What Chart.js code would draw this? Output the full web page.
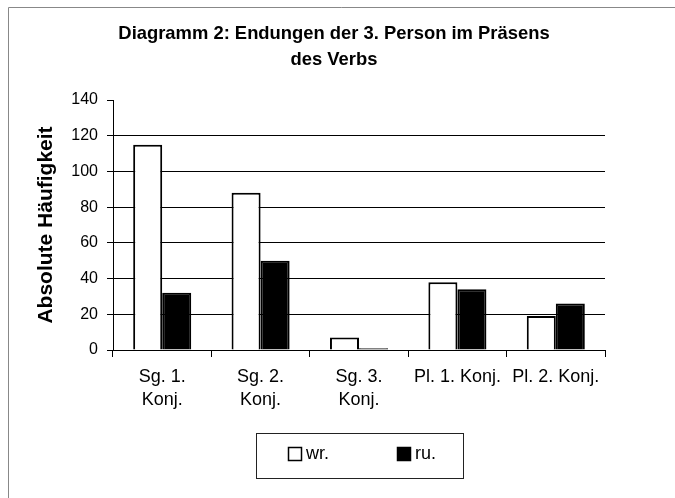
<!DOCTYPE html>
<html><head><meta charset="utf-8">
<script src="https://cdn.jsdelivr.net/npm/chart.js@4"></script>
<style>html,body{margin:0;padding:0;background:#fff}#wrap{width:675px;height:498px;position:relative}</style>
</head><body><div id="wrap"><canvas id="c" width="675" height="498"></canvas></div>
<script>
const categories = [["Sg. 1.","Konj."],["Sg. 2.","Konj."],["Sg. 3.","Konj."],"Pl. 1. Konj.","Pl. 2. Konj."];
const seriesNames = ["wr.","ru."];
const wrValues = [115, 88, 7, 38, 19];
const ruValues = [32, 50, 1, 34, 26];
const yTicks = [0,20,40,60,80,100,120,140];
const titleLines = ["Diagramm 2: Endungen der 3. Person im Präsens","des Verbs"];
const yTitle = "Absolute Häufigkeit";

const FONT = "'Liberation Sans', Arial, sans-serif";

const framePlugin = {
  id: 'frame',
  beforeDraw(chart) {
    const ctx = chart.ctx;
    ctx.save();
    ctx.fillStyle = '#fff';
    ctx.fillRect(0,0,chart.width,chart.height);
    ctx.strokeStyle = '#888';
    ctx.lineWidth = 1;
    ctx.beginPath();
    ctx.moveTo(8.5, chart.height);
    ctx.lineTo(8.5, 7.5);
    ctx.lineTo(chart.width, 7.5);
    ctx.stroke();
    ctx.restore();
  }
};

const titlePlugin = {
  id: 'mainTitle',
  afterDraw(chart) {
    const ctx = chart.ctx;
    ctx.save();
    ctx.font = "bold 18.4px " + FONT;
    ctx.fillStyle = '#000';
    ctx.textAlign = 'center';
    ctx.textBaseline = 'middle';
    titleLines.forEach((t, i) => ctx.fillText(t, 334, 34 + i * 26));
    ctx.restore();
  }
};

const legendPlugin = {
  id: 'boxLegend',
  afterDraw(chart) {
    const ctx = chart.ctx;
    const ca = chart.chartArea;
    const cx = (ca.left + ca.right) / 2;
    const w = 207, h = 45, top = 433;
    const left = Math.round(cx - w / 2);
    ctx.save();
    ctx.strokeStyle = '#222';
    ctx.lineWidth = 1;
    ctx.strokeRect(left + 0.5, top + 0.5, w, h);
    ctx.font = "18px " + FONT;
    ctx.textBaseline = 'middle';
    ctx.textAlign = 'left';
    const itemX = [left + 32, left + 141];
    chart.data.datasets.forEach((ds, i) => {
      const x = itemX[i], y = top + 14;
      ctx.fillStyle = ds.backgroundColor;
      ctx.fillRect(x, y, 14, 14);
      ctx.strokeStyle = '#000';
      ctx.lineWidth = 1.5;
      ctx.strokeRect(x + 0.5, y + 0.5, 13, 13);
      ctx.fillStyle = '#000';
      ctx.fillText(ds.label, x + 18, y + 7.5);
    });
    ctx.restore();
  }
};

new Chart(document.getElementById('c'), {
  type: 'bar',
  data: {
    labels: categories,
    datasets: [
      { label: seriesNames[0], data: wrValues, backgroundColor: '#ffffff', borderColor: '#000', borderWidth: 2 },
      { label: seriesNames[1], data: ruValues, backgroundColor: '#000000', borderColor: '#000', borderWidth: 2 }
    ]
  },
  options: {
    responsive: false,
    devicePixelRatio: 1,
    animation: false,
    layout: { padding: { left: 0, right: 70, top: 100, bottom: 0 } },
    plugins: { legend: { display: false }, title: { display: false }, tooltip: { enabled: false } },
    datasets: { bar: { categoryPercentage: 0.59, barPercentage: 1.0 } },
    scales: {
      x: {
        grid: { display: true, drawOnChartArea: false, drawTicks: true, tickLength: 7, color: '#000', offset: true },
        border: { display: true, color: '#000', width: 1 },
        ticks: { color: '#000', font: { family: FONT, size: 18, lineHeight: 1.27 }, padding: 9, maxRotation: 0, autoSkip: false },
        afterFit(s) { s.height = 148; }
      },
      y: {
        min: 0, max: 140,
        afterBuildTicks(s) { s.ticks = yTicks.map(v => ({ value: v })); },
        grid: {
          color: (c) => (c.tick && c.tick.value === 140) ? 'rgba(0,0,0,0)' : '#000',
          tickColor: '#000', tickLength: 6, lineWidth: 1
        },
        border: { display: true, color: '#000', width: 1 },
        ticks: { color: '#000', font: { family: FONT, size: 16 }, padding: 9 },
        title: { display: true, text: yTitle, color: '#000', font: { family: FONT, size: 21, weight: 'bold', lineHeight: 1.2 }, padding: { top: 34, bottom: 0 } },
        afterFit(s) { s.width = 113; }
      }
    }
  },
  plugins: [framePlugin, titlePlugin, legendPlugin]
});
</script>
</body></html>
